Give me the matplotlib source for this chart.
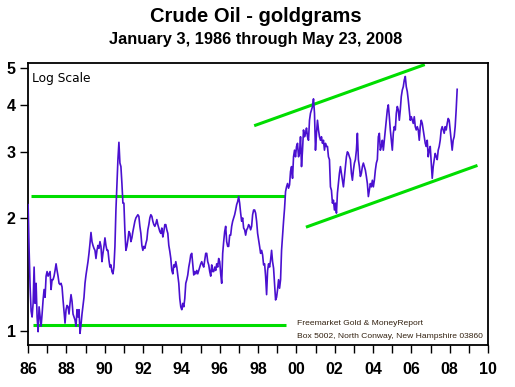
import numpy as np
import matplotlib
matplotlib.use('Agg')
import matplotlib.pyplot as plt
from matplotlib.ticker import FixedLocator, NullLocator, MultipleLocator

# crude oil priced in goldgrams, roughly one value every ~19 days
vals_86_97 = [
    2.17, 1.64, 1.31, 1.13, 1.09, 1.185, 1.48, 1.185, 1.34, 1.09, 0.996, 1.16,
    1.09, 1.03, 1.11, 1.21, 1.29, 1.23, 1.40, 1.44, 1.40, 1.42, 1.44, 1.29,
    1.37, 1.37, 1.40, 1.45, 1.51, 1.45, 1.40, 1.34, 1.33, 1.34, 1.31, 1.21,
    1.13, 1.05, 1.14, 1.17, 1.16, 1.11, 1.185, 1.25, 1.20, 1.11, 1.09, 1.07,
    1.03, 1.14, 1.09, 1.14, 0.986, 1.04, 1.11, 1.17, 1.23, 1.34, 1.41, 1.47,
    1.53, 1.61, 1.71, 1.83, 1.73, 1.69, 1.66, 1.64, 1.56, 1.64, 1.69, 1.66,
    1.73, 1.68, 1.53, 1.61, 1.68, 1.77, 1.69, 1.64, 1.64, 1.545, 1.48, 1.50,
    1.44, 1.42, 1.48, 1.68, 2.10, 2.47, 2.86, 3.18, 2.80, 2.74, 2.47, 2.19,
    2.19, 1.84, 1.64, 1.68, 1.75, 1.84, 1.82, 1.73, 1.77, 1.84, 1.90, 1.96,
    2.00, 2.02, 2.04, 2.02, 1.90, 1.82, 1.69, 1.64, 1.68, 1.66, 1.71, 1.75,
    1.86, 1.92, 2.00, 2.04, 2.02, 1.96, 1.92, 1.90, 1.93, 1.98, 1.92, 1.88,
    1.84, 1.82, 1.88, 1.78, 1.84, 1.92, 1.92, 1.86, 1.82, 1.69, 1.63, 1.56,
    1.45, 1.42, 1.50, 1.48, 1.53, 1.48, 1.41, 1.34, 1.22, 1.16, 1.14, 1.185,
    1.16, 1.22, 1.34, 1.37, 1.41, 1.48, 1.53, 1.595, 1.61, 1.51, 1.41, 1.44,
    1.42, 1.45, 1.42, 1.45, 1.48, 1.51, 1.53, 1.50, 1.48, 1.545, 1.61, 1.61,
    1.53, 1.50, 1.44, 1.40, 1.50, 1.44, 1.44, 1.48, 1.45, 1.51, 1.48, 1.56,
    1.53, 1.42, 1.34, 1.61, 1.73, 1.84, 1.90, 1.73, 1.68, 1.68, 1.80, 1.80,
    1.90, 1.96, 2.00, 2.04, 2.10, 2.17, 2.21, 2.28, 2.19, 2.06, 1.96, 2.00,
    1.88, 1.86, 1.80, 1.86, 1.88, 1.92,
]
vals_97_08 = [
    1.90, 1.86, 1.90, 2.04, 2.10, 2.10, 2.06, 1.96, 1.82, 1.75, 1.68, 1.61,
    1.64, 1.595, 1.50, 1.51, 1.40, 1.25, 1.45, 1.51, 1.48, 1.545, 1.64, 1.53,
    1.47, 1.34, 1.21, 1.23, 1.29, 1.37, 1.30, 1.37, 1.64, 1.80, 1.96, 2.12,
    2.35, 2.42, 2.47, 2.40, 2.45, 2.66, 2.74, 2.55, 2.91, 3.03, 2.91, 3.10,
    3.16, 2.91, 2.97, 3.29, 2.74, 3.03, 3.43, 3.29, 3.36, 3.47, 3.29, 3.22,
    3.64, 3.80, 3.88, 3.96, 4.15, 3.80, 3.03, 3.36, 3.64, 3.43, 3.29, 3.22,
    3.29, 3.16, 3.22, 3.03, 3.16, 3.10, 3.10, 2.91, 2.86, 2.42, 2.37, 2.19,
    2.23, 2.10, 2.19, 2.06, 2.33, 2.47, 2.63, 2.74, 2.63, 2.52, 2.42, 2.58,
    2.74, 2.91, 3.00, 2.97, 2.91, 2.86, 2.63, 2.52, 2.68, 2.80, 2.86, 3.03,
    3.36, 2.86, 2.74, 2.58, 2.63, 2.74, 2.80, 2.74, 2.68, 2.58, 2.47, 2.28,
    2.37, 2.47, 2.42, 2.52, 2.42, 2.52, 2.68, 2.80, 2.86, 3.29, 3.36, 3.03,
    3.10, 3.22, 3.03, 3.22, 3.43, 3.64, 3.88, 4.00, 3.72, 3.43, 3.22, 3.03,
    3.36, 3.50, 3.43, 3.80, 3.96, 3.88, 3.64, 3.88, 4.21, 4.38, 4.47, 4.66,
    4.76, 4.47, 4.34, 4.12, 3.88, 3.64, 3.72, 3.64, 3.57, 3.72, 3.50, 3.43,
    3.50, 3.43, 3.22, 3.50, 3.64, 3.57, 3.43, 3.29, 3.16, 3.10, 3.22, 2.91,
    3.03, 3.10, 2.80, 2.55, 2.74, 2.86, 2.97, 2.91, 2.86, 3.03, 3.10, 3.22,
    3.43, 3.50, 3.43, 3.36, 3.50, 3.43, 3.57, 3.68, 3.64, 3.43, 3.22, 3.03,
    3.22, 3.29, 3.50, 3.88, 4.40,
]
oil = np.array(vals_86_97 + vals_97_08)
# Jan 3, 1986 .. May 23, 2008 in decimal years
years = np.linspace(1986 + 2 / 365., 2008 + 143 / 366., len(oil))

# trend lines drawn on the original chart
top_band = ([1986.15, 1999.4], [2.29, 2.29])
low_band = ([1986.27, 1999.45], [1.037, 1.037])
chan_up = ([1997.8, 2006.7], [3.52, 5.12])
chan_dn = ([2000.5, 2009.45], [1.89, 2.76])

xticks = list(range(1986, 2011, 2))
xlabels = ['%02d' % (y % 100) for y in xticks]
yticks = [1, 2, 3, 4, 5]

fig = plt.figure(figsize=(5.15, 3.87), dpi=100)
ax = fig.add_axes([0.0544, 0.1085, 0.8932, 0.7287])

green = '#00dd00'
for xs, ys in (top_band, low_band, chan_up, chan_dn):
    ax.plot(xs, ys, color=green, lw=2.2, solid_capstyle='butt', zorder=2)
ax.plot(years, oil, color='#4a10d0', lw=1.2, zorder=3)

ax.set_yscale('log')
ax.set_ylim(0.918, 5.17)
ax.set_xlim(1986, 2010)
ax.yaxis.set_major_locator(FixedLocator(yticks))
ax.yaxis.set_minor_locator(NullLocator())
ax.set_yticklabels([str(v) for v in yticks])
ax.set_xticks(xticks)
ax.set_xticklabels(xlabels)
ax.xaxis.set_minor_locator(MultipleLocator(1))

ax.tick_params(axis='both', which='both', direction='out', length=6, width=1, colors='black')
for lab in ax.get_xticklabels() + ax.get_yticklabels():
    lab.set_fontfamily('Liberation Sans')
    lab.set_fontweight('bold')
    lab.set_fontsize(11.5)
ax.tick_params(axis='x', pad=6)
ax.tick_params(axis='y', pad=3)
for s in ax.spines.values():
    s.set_linewidth(1.3)

ax.text(0.009, 0.945, 'Log Scale', transform=ax.transAxes, fontsize=8.8,
        family='DejaVu Sans', ha='left', va='center')
ax.text(0.585, 0.075, 'Freemarket Gold & MoneyReport', transform=ax.transAxes,
        fontsize=6.1, family='Liberation Sans', color='#332211', ha='left', va='center')
ax.text(0.585, 0.029, 'Box 5002, North Conway, New Hampshire 03860', transform=ax.transAxes,
        fontsize=6.1, family='Liberation Sans', color='#332211', ha='left', va='center')

fig.text(0.497, 0.958, 'Crude Oil - goldgrams', family='Liberation Sans', fontweight='bold',
         fontsize=14.5, ha='center', va='center')
fig.text(0.497, 0.899, 'January 3, 1986 through May 23, 2008', family='Liberation Sans',
         fontweight='bold', fontsize=11.8, ha='center', va='center')

fig.savefig('out.png', dpi=100)
